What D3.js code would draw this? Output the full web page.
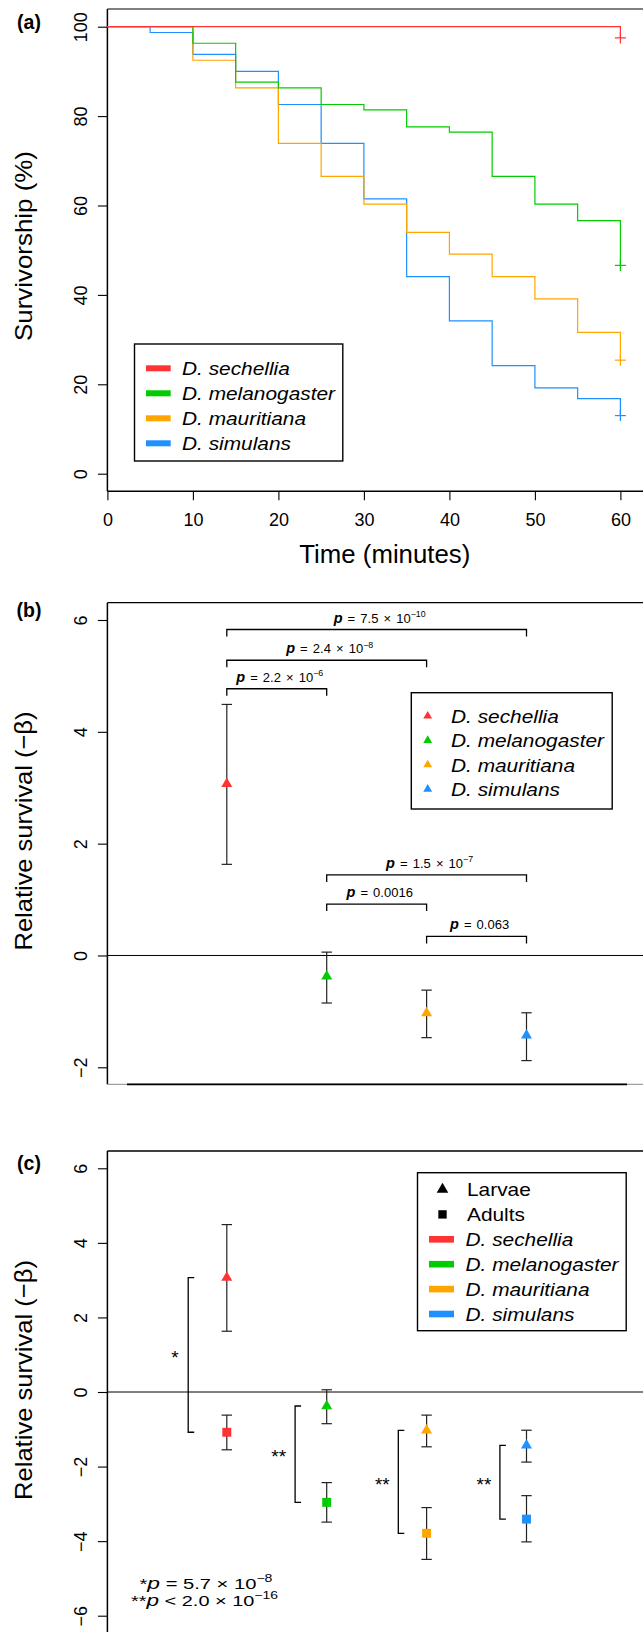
<!DOCTYPE html>
<html><head><meta charset="utf-8">
<script src="https://cdn.jsdelivr.net/npm/d3@7"></script>
<style>
body{margin:0;background:#fff}
svg{display:block}
text{font-family:"Liberation Sans",Arial,Helvetica,sans-serif;fill:#000}
</style>
</head><body>
<svg id="chart" width="643" height="1632"></svg>
<script>
// ---------------- DATA ----------------
const species = ["D. sechellia", "D. melanogaster", "D. mauritiana", "D. simulans"];
const speciesColors = ["#ff3333", "#00cc00", "#ffa500", "#1e90ff"];

// Panel (a): Kaplan-Meier survivorship (%) at each time (step after)
const times = [0, 5, 10, 15, 20, 25, 30, 35, 40, 45, 50, 55, 60];
const survSechellia     = [100, 100, 100, 100, 100, 100, 100, 100, 100, 100, 100, 100, 97.5];
const survMelanogaster  = [100, 100, 96.3, 87.6, 86.3, 82.6, 81.4, 77.6, 76.4, 66.5, 60.3, 56.6, 46.6];
const survMauritiana    = [100, 100, 92.5, 86.3, 73.9, 66.5, 60.3, 54.0, 49.1, 44.1, 39.1, 31.6, 25.4];
const survSimulans      = [100, 98.7, 93.8, 90.0, 82.6, 73.9, 61.5, 44.1, 34.2, 24.2, 19.2, 16.8, 13.0];
const timeTicks = [0, 10, 20, 30, 40, 50, 60];
const survTicks = [0, 20, 40, 60, 80, 100];

// Panels (b),(c): relative survival (-beta)
const larvaeMean = [3.07, -0.375, -1.03, -1.43];
const larvaeLo   = [1.63, -0.85, -1.47, -1.88];
const larvaeHi   = [4.49, 0.06, -0.62, -1.025];
const adultMean  = [-1.08, -2.96, -3.79, -3.41];
const adultLo    = [-1.55, -3.49, -4.49, -4.02];
const adultHi    = [-0.62, -2.43, -3.10, -2.78];
const betaTicksB = [-2, 0, 2, 4, 6];
const betaTicksC = [-6, -4, -2, 0, 2, 4, 6];

// Pairwise comparisons in (b)
const pairFrom     = [0, 0, 0, 1, 1, 2];
const pairTo       = [3, 2, 1, 3, 2, 3];
const pairLevel    = [5.83, 5.28, 4.77, 1.44, 0.92, 0.34];
const pairMantissa = ["7.5", "2.4", "2.2", "1.5", "0.0016", "0.063"];
const pairExponent = ["\u221210", "\u22128", "\u22126", "\u22127", "", ""];

// Larvae vs adults in (c)
const sigLabels = ["*", "**", "**", "**"];

// ---------------- DRAWING ----------------
const svg = d3.select("#chart");
const W = 643;
const leftX = 107.4;
const ink = "#000";

function hline(y, x1, x2, w, col) {
  svg.append("line").attr("x1", x1).attr("x2", x2).attr("y1", y).attr("y2", y)
    .attr("stroke", col || ink).attr("stroke-width", w || 1);
}
function vline(x, y1, y2, w, col) {
  svg.append("line").attr("x1", x).attr("x2", x).attr("y1", y1).attr("y2", y2)
    .attr("stroke", col || ink).attr("stroke-width", w || 1);
}
// stretch a text horizontally by a factor (keeps glyph height)
function stretch(t, f) {
  const n = t.node();
  const w = n.getComputedTextLength();
  t.attr("textLength", w * f).attr("lengthAdjust", "spacingAndGlyphs");
  return t;
}
function fitTo(t, target) {
  t.attr("textLength", target).attr("lengthAdjust", "spacingAndGlyphs");
  return t;
}
function yAxis(scale, ticks) {
  const g = svg.append("g").attr("transform", `translate(${leftX},0)`)
    .call(d3.axisLeft(scale).tickValues(ticks).tickSize(9.5).tickSizeOuter(0));
  g.select(".domain").remove();
  g.selectAll(".tick line").attr("stroke", ink).attr("stroke-width", 1.1);
  g.selectAll(".tick text")
    .attr("dy", null)
    .attr("transform", "rotate(-90)")
    .attr("x", 0).attr("y", -20.5)
    .attr("text-anchor", "middle")
    .style("font-size", "18px").style("font-family", "Liberation Sans, Arial, sans-serif")
    .attr("fill", ink);
  return g;
}
function panelLabel(txt, y) {
  svg.append("text").attr("x", 29).attr("y", y).attr("text-anchor", "middle")
    .style("font-size", "19.5px").style("font-weight", "bold").text(txt);
}
function yTitle(txt, cy, len) {
  const t = svg.append("text").attr("transform", `translate(31.5,${cy}) rotate(-90)`)
    .attr("text-anchor", "middle").style("font-size", "24.5px").text(txt);
  fitTo(t, len);
}
const legendStretch = (() => {
  const t = svg.append("text").style("font-size", "18.5px").style("font-style", "italic").text(species[1]);
  const w = t.node().getComputedTextLength();
  t.remove();
  return 153 / w;
})();
function legendText(x, y, txt, italic) {
  const t = svg.append("text").attr("x", x).attr("y", y).style("font-size", "18.5px")
    .style("font-style", italic ? "italic" : "normal").text(txt);
  stretch(t, legendStretch);
}

// ===== Panel (a) =====
const xA = d3.scaleLinear().domain([0, 60]).range([107.4, 620.4]);
const yA = d3.scaleLinear().domain([0, 100]).range([473.7, 26.7]);
const aTop = 9, aBot = 491.3;
hline(aTop, leftX, W, 1);
vline(leftX, aTop, aBot, 1.5);
hline(aBot, leftX, W, 1.6);
yAxis(yA, survTicks);
{
  const g = svg.append("g").attr("transform", `translate(0,${aBot})`)
    .call(d3.axisBottom(xA).tickValues(timeTicks).tickSize(9).tickSizeOuter(0));
  g.select(".domain").remove();
  g.selectAll(".tick line").attr("stroke", ink).attr("stroke-width", 1.1);
  g.selectAll(".tick text").attr("y", 35).attr("dy", null)
    .style("font-size", "18px").style("font-family", "Liberation Sans, Arial, sans-serif").attr("fill", ink);
}
const survSeries = [survSechellia, survMelanogaster, survMauritiana, survSimulans];
const stepLine = d3.line().x(d => xA(d[0])).y(d => yA(d[1])).curve(d3.curveStepAfter);
[3, 2, 1, 0].forEach(i => {
  const pts = times.map((t, j) => [t, survSeries[i][j]]);
  svg.append("path").attr("d", stepLine(pts)).attr("fill", "none")
    .attr("stroke", speciesColors[i]).attr("stroke-width", 1.2);
  const last = pts[pts.length - 1];
  const cx = xA(last[0]), cy = yA(last[1]);
  hline(cy, cx - 5.5, cx + 5.5, 1.2, speciesColors[i]);
  vline(cx, cy - 5.5, cy + 5.5, 1.2, speciesColors[i]);
});
// legend (a)
svg.append("rect").attr("x", 134.5).attr("y", 344).attr("width", 208.3).attr("height", 117)
  .attr("fill", "#fff").attr("stroke", ink).attr("stroke-width", 1.4);
species.forEach((s, i) => {
  const ry = 368.3 + i * 25;
  svg.append("rect").attr("x", 146).attr("y", ry - 3).attr("width", 24.7).attr("height", 6)
    .attr("fill", speciesColors[i]);
  legendText(182, ry + 6.8, s, true);
});
panelLabel("(a)", 28.5);
yTitle("Survivorship (%)", 246, 190);
fitTo(svg.append("text").attr("x", 384.8).attr("y", 563).attr("text-anchor", "middle")
  .style("font-size", "25px").text("Time (minutes)"), 171);

// ===== Shared point scale =====
const xP = d3.scalePoint().domain(d3.range(species.length)).range([226.8, 526.5]);
const triSym = d3.symbol().type(d3.symbolTriangle);
const sqSym = d3.symbol().type(d3.symbolSquare);

function errorBar(x, lo, hi, yS) {
  vline(x, yS(hi), yS(lo), 1.2, "#222");
  hline(yS(hi), x - 5.2, x + 5.2, 1.2, "#222");
  hline(yS(lo), x - 5.2, x + 5.2, 1.2, "#222");
}
function marker(sym, size, x, y, col) {
  svg.append("path").attr("d", sym.size(size)()).attr("transform", `translate(${x},${y})`)
    .attr("fill", col);
}
function pText(x, y, mant, exp, size) {
  const t = svg.append("text").attr("x", x).attr("y", y).attr("text-anchor", "middle")
    .style("font-size", size + "px").style("word-spacing", "1.5px").attr("fill", "#222");
  t.append("tspan").style("font-style", "italic").style("font-weight", "bold").style("font-size", (size + 1.5) + "px").text("p");
  t.append("tspan").text(exp ? ` = ${mant} \u00d7 10` : ` = ${mant}`);
  if (exp) t.append("tspan").attr("dy", -5.5).style("font-size", (size * 0.68) + "px").text(exp);
}

// ===== Panel (b) =====
const yB = d3.scaleLinear().domain([-2, 6]).range([1067.3, 620]);
const bTop = 602.7, bBot = 1084.3;
hline(bTop, leftX, W, 1.3);
vline(leftX, bTop, bBot, 1.5);
hline(bBot, leftX, W, 1, "#888");
hline(bBot, 127, 627, 1.8);
hline(yB(0), leftX, W, 1);
yAxis(yB, betaTicksB);
pairFrom.forEach((a, k) => {
  const x1 = xP(a), x2 = xP(pairTo[k]), y = yB(pairLevel[k]);
  svg.append("path").attr("d", `M${x1},${y + 7}V${y}H${x2}V${y + 7}`)
    .attr("fill", "none").attr("stroke", ink).attr("stroke-width", 1.3);
  pText((x1 + x2) / 2 + 3, y - 7, pairMantissa[k], pairExponent[k], 13);
});
species.forEach((s, i) => {
  const x = xP(i);
  errorBar(x, larvaeLo[i], larvaeHi[i], yB);
  marker(triSym, 52, x, yB(larvaeMean[i]), speciesColors[i]);
});
svg.append("rect").attr("x", 411.3).attr("y", 692.7).attr("width", 200.9).attr("height", 116.3)
  .attr("fill", "#fff").attr("stroke", ink).attr("stroke-width", 1.4);
species.forEach((s, i) => {
  const ry = 716 + i * 24.4;
  marker(triSym, 34, 427.7, ry, speciesColors[i]);
  legendText(451, ry + 6.8, s, true);
});
panelLabel("(b)", 617);
yTitle("Relative survival (\u2212\u03b2)", 831, 239);

// ===== Panel (c) =====
const yC = d3.scaleLinear().domain([-6, 6]).range([1615.7, 1168.3]);
const cTop = 1151;
hline(cTop, leftX, W, 1.3);
vline(leftX, cTop, 1632, 1.5);
hline(yC(0), leftX, W, 1);
yAxis(yC, betaTicksC);
const bracketOffset = [38.6, 31.6, 28.3, 26.6];
const starOffset = [13.2, 16.4, 16, 16];
species.forEach((s, i) => {
  const x = xP(i);
  const bx = x - bracketOffset[i];
  const yT = yC(larvaeMean[i]), yBt = yC(adultMean[i]);
  svg.append("path").attr("d", `M${bx + 6},${yT}H${bx}V${yBt}H${bx + 6}`)
    .attr("fill", "none").attr("stroke", ink).attr("stroke-width", 1.3);
  svg.append("text").attr("x", bx - starOffset[i]).attr("y", (yT + yBt) / 2 + 9)
    .attr("text-anchor", "middle").style("font-size", "19px").attr("fill", "#222").text(sigLabels[i]);
  errorBar(x, larvaeLo[i], larvaeHi[i], yC);
  errorBar(x, adultLo[i], adultHi[i], yC);
  marker(triSym, 52, x, yC(larvaeMean[i]), speciesColors[i]);
  marker(sqSym, 80, x, yC(adultMean[i]), speciesColors[i]);
});
svg.append("rect").attr("x", 417.5).attr("y", 1172.7).attr("width", 208.7).attr("height", 158)
  .attr("fill", "#fff").attr("stroke", ink).attr("stroke-width", 1.4);
const stageNames = ["Larvae", "Adults"];
stageNames.forEach((nm, i) => {
  const ry = 1189.5 + i * 24.9;
  marker(i === 0 ? triSym : sqSym, i === 0 ? 58 : 70, 442.5, ry, ink);
  legendText(467, ry + 6.8, nm, false);
});
species.forEach((s, i) => {
  const ry = 1189.5 + (i + 2) * 24.9;
  svg.append("rect").attr("x", 429).attr("y", ry - 3.3).attr("width", 25).attr("height", 6.6)
    .attr("fill", speciesColors[i]);
  legendText(465.5, ry + 6.8, s, true);
});
// footnote
function footLine(y, cx, len, stars, rel, mant, exp) {
  const t = svg.append("text").attr("x", cx).attr("y", y).attr("text-anchor", "middle")
    .style("font-size", "15px").attr("fill", "#111");
  t.append("tspan").text(stars);
  t.append("tspan").style("font-style", "italic").style("font-size", "17px").text("p");
  t.append("tspan").text(` ${rel} ${mant} \u00d7 10`);
  t.append("tspan").attr("dy", -6.5).style("font-size", "10.5px").text(exp);
  fitTo(t, len);
}
footLine(1588.5, 206, 133, "*", "=", "5.7", "\u22128");
footLine(1605.5, 204.5, 147, "**", "<", "2.0", "\u221216");
panelLabel("(c)", 1170);
yTitle("Relative survival (\u2212\u03b2)", 1380, 240);
</script>
</body></html>
